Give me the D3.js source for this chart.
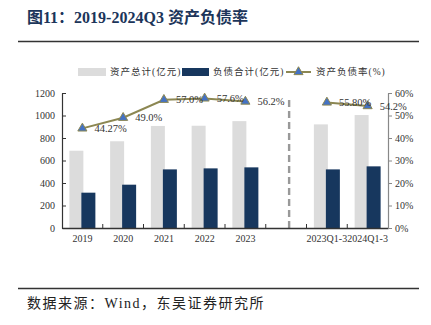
<!DOCTYPE html>
<html>
<head>
<meta charset="utf-8">
<script src="https://cdn.jsdelivr.net/npm/d3@7.9.0/dist/d3.min.js"></script>
<style>
  html, body { margin: 0; padding: 0; background: #fff; }
  svg { display: block; }
  text { font-family: "Liberation Serif", "Noto Sans CJK SC", serif; }
</style>
</head>
<body>
<svg id="chart"></svg>
<script>
// chart values
const categories = ['2019', '2020', '2021', '2022', '2023', '', '2023Q1-3', '2024Q1-3'];
const totalAssets = [687, 771, 907, 909, 950, null, 921, 1004];   // 资产总计(亿元)
const totalDebt = [314, 385, 521, 530, 539, null, 521, 548];      // 负债合计(亿元)
const debtRatio = [0.4427, 0.49, 0.57, 0.576, 0.562, null, 0.558, 0.542]; // 资产负债率
const ratioLabels = ['44.27%', '49.0%', '57.0%', '57.6%', '56.2%', null, '55.80%', '54.2%'];
const leftTicks = [0, 200, 400, 600, 800, 1000, 1200];
const rightTicks = [0, 0.1, 0.2, 0.3, 0.4, 0.5, 0.6];
const legendNames = ['资产总计(亿元)', '负债合计(亿元)', '资产负债率(%)'];

const width = 431;
const height = 325;
const grey = '#dcdcdc';
const navy = '#17375e';
const olive = '#8c8752';
const markerBlue = '#4472c4';

const svg = d3.select('#chart').attr('width', width).attr('height', height);

const plot = { left: 62, right: 388, top: 93, bottom: 228 };

const x = d3.scaleBand().domain(d3.range(categories.length)).range([plot.left, plot.right]);
const yLeft = d3.scaleLinear().domain([0, 1200]).range([plot.bottom, plot.top]);
const yRight = d3.scaleLinear().domain([0, 0.6]).range([plot.bottom, plot.top]);

// title + rules
svg.append('text')
    .attr('x', 27).attr('y', 23)
    .attr('font-size', 16).attr('font-weight', 'bold')
    .attr('fill', '#1c355a')
    .text('图11：2019-2024Q3 资产负债率');
svg.append('line').attr('x1', 18).attr('x2', 419).attr('y1', 41.5).attr('y2', 41.5)
    .attr('stroke', '#333').attr('stroke-width', 1.4);
svg.append('line').attr('x1', 18).attr('x2', 419).attr('y1', 288.5).attr('y2', 288.5)
    .attr('stroke', '#333').attr('stroke-width', 1.4);
svg.append('text')
    .attr('x', 27).attr('y', 308)
    .attr('font-size', 14).attr('fill', '#222')
    .attr('letter-spacing', 1.5)
    .text('数据来源：Wind，东吴证券研究所');

// bars
const barW = 14;
const idx = d3.range(categories.length).filter((i) => totalAssets[i] != null);

svg.append('g').selectAll('rect')
    .data(idx)
    .join('rect')
    .attr('x', (i) => x(i) + x.bandwidth() / 2 - 6 - barW / 2)
    .attr('y', (i) => yLeft(totalAssets[i]))
    .attr('width', barW)
    .attr('height', (i) => yLeft(0) - yLeft(totalAssets[i]))
    .attr('fill', grey);

svg.append('g').selectAll('rect')
    .data(idx)
    .join('rect')
    .attr('x', (i) => x(i) + x.bandwidth() / 2 + 6 - barW / 2)
    .attr('y', (i) => yLeft(totalDebt[i]))
    .attr('width', barW)
    .attr('height', (i) => yLeft(0) - yLeft(totalDebt[i]))
    .attr('fill', navy);

// dashed divider in the empty slot
const gapIdx = categories.indexOf('');
svg.append('line')
    .attr('x1', x(gapIdx) + x.bandwidth() / 2 + 3)
    .attr('x2', x(gapIdx) + x.bandwidth() / 2 + 3)
    .attr('y1', 100).attr('y2', plot.bottom)
    .attr('stroke', '#999').attr('stroke-width', 2.4)
    .attr('stroke-dasharray', '7,4');

// axes
const xAxis = svg.append('g')
    .attr('transform', `translate(0,${plot.bottom})`)
    .call(d3.axisBottom(x).tickSize(0).tickFormat((i) => categories[i]));
xAxis.select('.domain').attr('stroke', '#333').attr('stroke-width', 1.3);
xAxis.selectAll('text').attr('font-size', 10).attr('fill', '#333').attr('dy', '1.05em')
    .attr('font-family', '"Liberation Serif", serif');
// category boundary ticks (inward)
svg.append('g').selectAll('line')
    .data(d3.range(1, categories.length))
    .join('line')
    .attr('x1', (i) => x(i)).attr('x2', (i) => x(i))
    .attr('y1', plot.bottom).attr('y2', plot.bottom - 4)
    .attr('stroke', '#333').attr('stroke-width', 1);

const leftAxis = svg.append('g')
    .attr('transform', `translate(${plot.left},0)`)
    .call(d3.axisLeft(yLeft).tickValues(leftTicks).tickSizeInner(-4).tickSizeOuter(0)
        .tickPadding(7).tickFormat(d3.format('d')));
leftAxis.select('.domain').attr('stroke', '#333').attr('stroke-width', 1.2);
leftAxis.selectAll('.tick line').attr('stroke', '#333');
leftAxis.selectAll('text').attr('font-size', 10).attr('fill', '#333')
    .attr('font-family', '"Liberation Serif", serif');

const rightAxis = svg.append('g')
    .attr('transform', `translate(${plot.right},0)`)
    .call(d3.axisRight(yRight).tickValues(rightTicks).tickSizeInner(4).tickSizeOuter(0)
        .tickPadding(3).tickFormat(d3.format('.0%')));
rightAxis.select('.domain').attr('stroke', '#888').attr('stroke-width', 1.2);
rightAxis.selectAll('.tick line').attr('stroke', '#888');
rightAxis.selectAll('text').attr('font-size', 10).attr('fill', '#333')
    .attr('font-family', '"Liberation Serif", serif');

// ratio line, broken at the empty slot
const line = d3.line()
    .defined((i) => debtRatio[i] != null)
    .x((i) => x(i) + x.bandwidth() / 2)
    .y((i) => yRight(debtRatio[i]));

svg.append('path')
    .datum(d3.range(categories.length))
    .attr('d', line)
    .attr('fill', 'none')
    .attr('stroke', olive)
    .attr('stroke-width', 2);

const tri = d3.symbol().type(d3.symbolTriangle).size(36);
svg.append('g').selectAll('path')
    .data(idx)
    .join('path')
    .attr('transform', (i) => `translate(${x(i) + x.bandwidth() / 2},${yRight(debtRatio[i])})`)
    .attr('d', tri)
    .attr('fill', markerBlue)
    .attr('stroke', olive)
    .attr('stroke-width', 1);

svg.append('g').selectAll('text')
    .data(idx)
    .join('text')
    .attr('x', (i) => x(i) + x.bandwidth() / 2 + 12)
    .attr('y', (i) => yRight(debtRatio[i]))
    .attr('dy', '0.35em')
    .attr('font-size', 10.5)
    .attr('fill', '#333')
    .text((i) => ratioLabels[i]);

// legend
const legend = svg.append('g').attr('font-size', 9.5).attr('fill', '#333');
legend.append('rect').attr('x', 78).attr('y', 68).attr('width', 28).attr('height', 8).attr('fill', grey);
legend.append('text').attr('x', 110).attr('y', 72).attr('dy', '0.35em')
    .attr('letter-spacing', 1).text(legendNames[0]);
legend.append('rect').attr('x', 182).attr('y', 68).attr('width', 27).attr('height', 8).attr('fill', navy);
legend.append('text').attr('x', 213).attr('y', 72).attr('dy', '0.35em')
    .attr('letter-spacing', 1).text(legendNames[1]);
legend.append('line').attr('x1', 286).attr('x2', 311).attr('y1', 72).attr('y2', 72)
    .attr('stroke', olive).attr('stroke-width', 2);
legend.append('path').attr('transform', 'translate(298.5,72)').attr('d', tri)
    .attr('fill', markerBlue).attr('stroke', olive).attr('stroke-width', 1);
legend.append('text').attr('x', 316).attr('y', 72).attr('dy', '0.35em')
    .attr('letter-spacing', 1).text(legendNames[2]);
</script>
</body>
</html>
